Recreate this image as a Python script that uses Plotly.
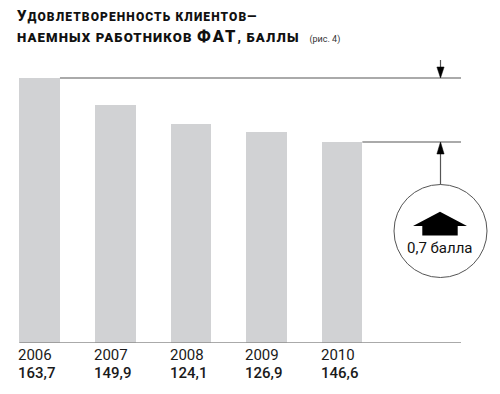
import plotly.graph_objects as go

# ---- data ----
years = ["2006", "2007", "2008", "2009", "2010"]
value_labels = ["163,7", "149,9", "124,1", "126,9", "146,6"]
bar_heights = [265, 238, 219, 211, 201]   # relative bar heights as drawn
change_label = "0,7 балла"
LS = "letter-spacing:1.1px"
title_line1 = (f"<span style='font-size:15px;{LS}'>У</span>"
               f"<span style='{LS}'>ДОВЛЕТВОРЕННОСТЬ КЛИЕНТОВ—</span>")
title_line2 = (f"<span style='{LS}'>НАЕМНЫХ РАБОТНИКОВ </span>"
               "<span style='font-size:16.5px;letter-spacing:2px'>ФАТ</span>"
               f"<span style='{LS}'>, БАЛЛЫ</span>&nbsp;&nbsp;&nbsp;"
               "<span style='font-size:9px;font-weight:400;color:#333'>(рис. 4)</span>")

# ---- layout geometry (reference pixels; page body has an 8px margin) ----
OFF = 8
W, H = 500 - OFF, 394 - OFF
BASE_PX = 343
TOP_PX = 60
PLOT_H = BASE_PX - TOP_PX
MT = TOP_PX - OFF
MB = H - (BASE_PX - OFF)
X0_PX = 39.7
STEP = 75.6
BAR_W = 0.536
LINE_END_PX = 461
ARROW_X_PX = 440.5


def px2x(px):
    return (px - X0_PX) / STEP


def py2y(py):
    return BASE_PX - py


def px2paper(px):
    return (px - OFF) / W


def py2paper(py):
    return (BASE_PX - py) / PLOT_H


LINE_END = px2x(LINE_END_PX)
BAR_COLOR = "#d1d2d4"
LINE_COLOR = "#8e8e8e"
FONT = "Roboto, 'Open Sans', sans-serif"

fig = go.Figure()
fig.add_trace(go.Bar(
    x=years, y=bar_heights, width=BAR_W,
    marker=dict(color=BAR_COLOR, line=dict(width=0)),
    hoverinfo="skip",
))

shapes = []
shapes.append(dict(type="line", xref="x", yref="y", x0=-BAR_W / 2, x1=LINE_END,
                   y0=0, y1=0, line=dict(color=LINE_COLOR, width=1.5)))
shapes.append(dict(type="line", xref="x", yref="y", x0=BAR_W / 2, x1=LINE_END,
                   y0=bar_heights[0], y1=bar_heights[0],
                   line=dict(color=LINE_COLOR, width=1.5)))
last = len(years) - 1
shapes.append(dict(type="line", xref="x", yref="y", x0=last + BAR_W / 2, x1=LINE_END,
                   y0=bar_heights[last], y1=bar_heights[last],
                   line=dict(color=LINE_COLOR, width=1.5)))

ax = px2x(ARROW_X_PX)
hw = 3.6 / STEP
top = bar_heights[0]
shapes.append(dict(type="line", xref="x", yref="y", x0=ax, x1=ax, y0=top + 8, y1=top + 18,
                   line=dict(color="#555555", width=1.2)))
shapes.append(dict(type="path", xref="x", yref="y",
                   path=f"M {ax - hw},{top + 11} L {ax + hw},{top + 11} L {ax},{top} Z",
                   fillcolor="black", line=dict(color="black", width=0.5)))
low = bar_heights[last]
circle_top = py2y(184.5)
shapes.append(dict(type="line", xref="x", yref="y", x0=ax, x1=ax, y0=low - 8, y1=circle_top,
                   line=dict(color="#555555", width=1.2)))
shapes.append(dict(type="path", xref="x", yref="y",
                   path=f"M {ax - hw},{low - 12} L {ax + hw},{low - 12} L {ax},{low} Z",
                   fillcolor="black", line=dict(color="black", width=0.5)))
R = 46.5
CY = 184.5 + R
shapes.append(dict(type="circle", xref="x", yref="y",
                   x0=px2x(ARROW_X_PX - R), x1=px2x(ARROW_X_PX + R),
                   y0=py2y(CY + R), y1=py2y(CY - R),
                   line=dict(color="#555555", width=1), fillcolor="rgba(0,0,0,0)"))
pts = [(440, 211.7), (467, 226), (457.7, 226), (457.7, 235.5), (422.3, 235.5),
       (422.3, 226), (413, 226)]
path = "M " + " L ".join(f"{px2x(a)},{py2y(b)}" for a, b in pts) + " Z"
shapes.append(dict(type="path", xref="x", yref="y", path=path,
                   fillcolor="black", line=dict(color="black", width=0)))

annotations = []
annotations.append(dict(xref="x", yref="y", x=px2x(440), y=py2y(247.5),
                        text=change_label, showarrow=False, xanchor="center", yanchor="middle",
                        font=dict(family=FONT, size=15, color="#111111")))

for i, (yr, val) in enumerate(zip(years, value_labels)):
    annotations.append(dict(xref="x", yref="paper", x=i - BAR_W / 2, y=py2paper(355), text=yr,
                            showarrow=False, xanchor="left", yanchor="middle", xshift=-3,
                            font=dict(family=FONT, size=15, color="#1a1a1a")))
    annotations.append(dict(xref="x", yref="paper", x=i - BAR_W / 2, y=py2paper(373), text=val,
                            showarrow=False, xanchor="left", yanchor="middle", xshift=-3,
                            font=dict(family=FONT, size=15, color="#1a1a1a", weight=500)))

annotations.append(dict(xref="paper", yref="paper", x=px2paper(18), y=py2paper(16), text=title_line1,
                        showarrow=False, xanchor="left", yanchor="middle", xshift=-3,
                        font=dict(family=FONT, size=12, color="#111111", weight=900)))
annotations.append(dict(xref="paper", yref="paper", x=px2paper(18), y=py2paper(36.5), text=title_line2,
                        showarrow=False, xanchor="left", yanchor="middle", xshift=-3,
                        font=dict(family=FONT, size=13.2, color="#111111", weight=900)))

fig.update_layout(
    width=W, height=H,
    margin=dict(l=0, r=0, t=MT, b=MB, pad=0),
    paper_bgcolor="white", plot_bgcolor="white",
    showlegend=False,
    xaxis=dict(type="category", range=[px2x(OFF), px2x(500)], showgrid=False,
               zeroline=False, showticklabels=False, ticks="", fixedrange=True),
    yaxis=dict(range=[0, PLOT_H], showgrid=False, zeroline=False,
               showticklabels=False, ticks="", fixedrange=True),
    shapes=shapes, annotations=annotations,
    bargap=0,
)

fig.write_html("out.html")
